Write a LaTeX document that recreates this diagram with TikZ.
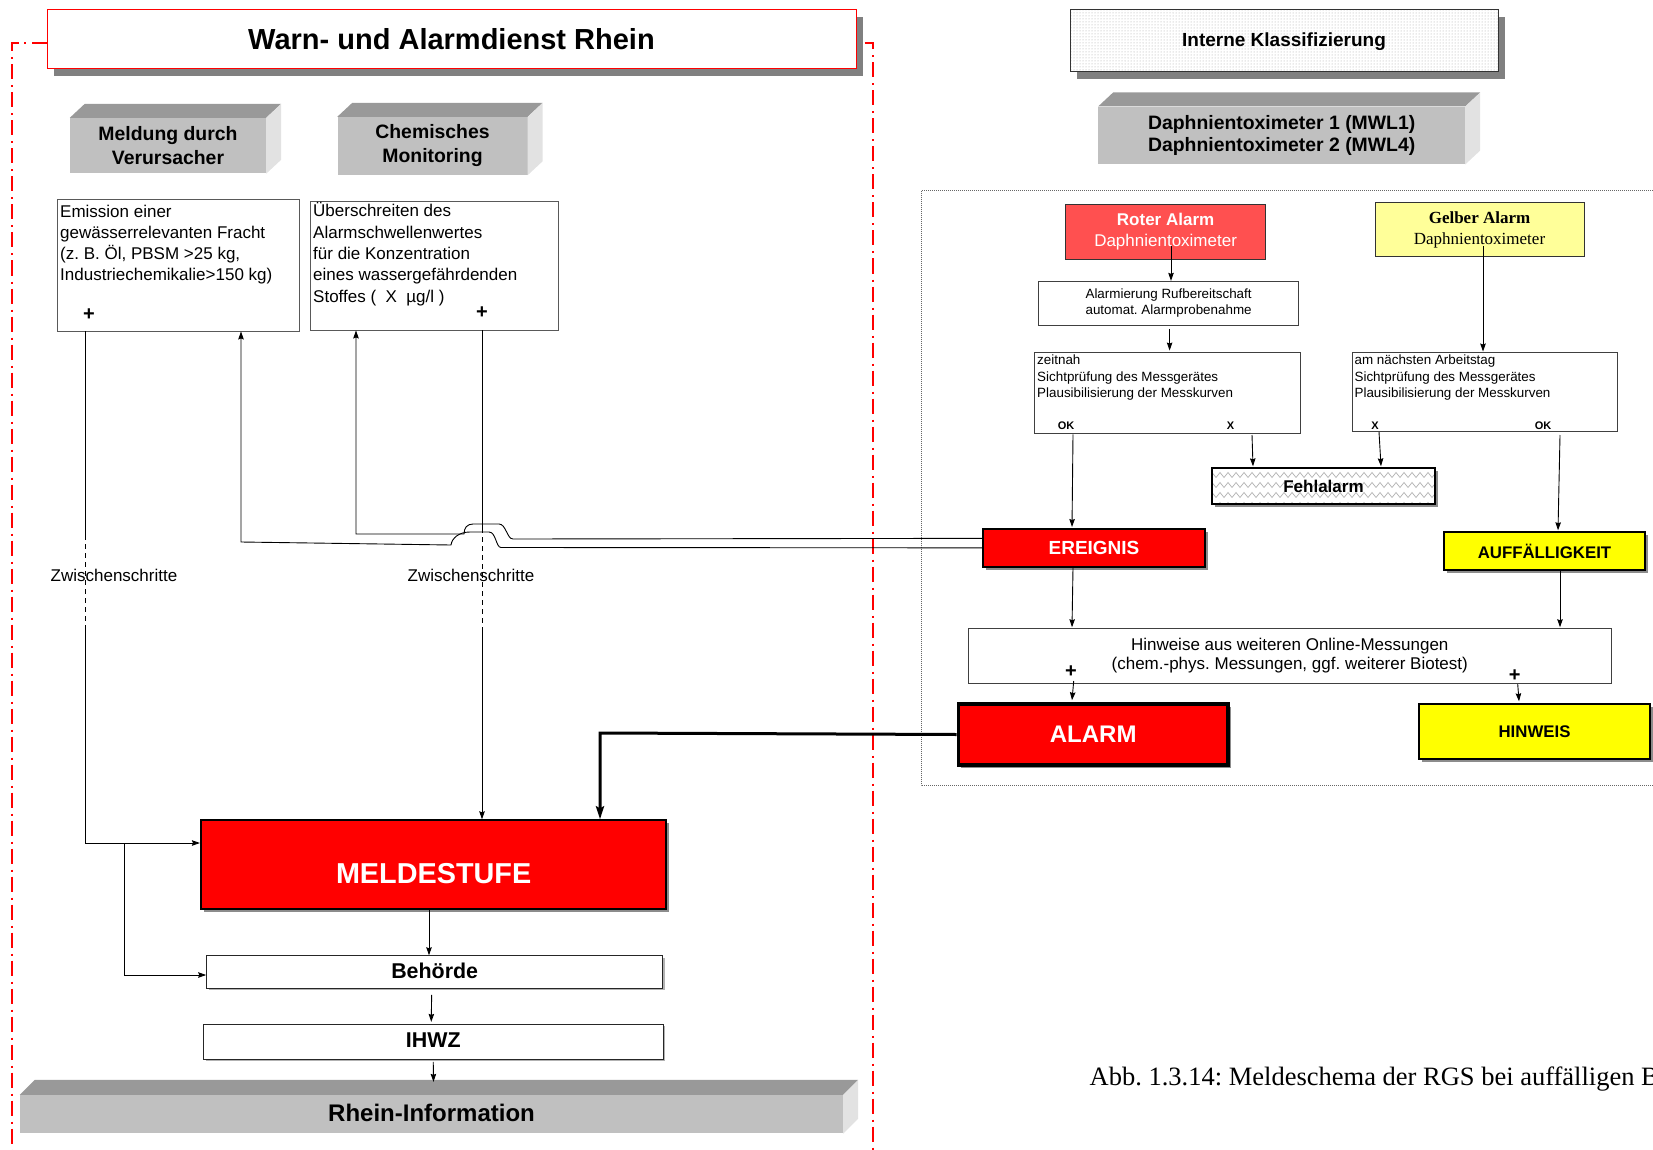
\documentclass[tikz,border=0pt]{standalone}
\usepackage{fontspec}
\setmainfont{Liberation Sans}
\newfontfamily\timesf{Liberation Serif}
\usetikzlibrary{arrows.meta,calc,shadows,patterns}
\frenchspacing
\definecolor{redA}{HTML}{FF0000}
\definecolor{redL}{HTML}{FF5050}
\definecolor{yelA}{HTML}{FFFF00}
\definecolor{yelL}{HTML}{FFFF99}
\definecolor{gFront}{HTML}{C0C0C0}
\definecolor{gTop}{HTML}{999999}
\definecolor{gSide}{HTML}{E2E2E2}
\definecolor{gShadow}{HTML}{808080}
\pgfdeclarepatternformonly{zigzag}{\pgfpoint{-1pt}{-1pt}}{\pgfpoint{17pt}{11pt}}{\pgfpoint{16pt}{10pt}}{%
  \pgfsetlinewidth{0.7pt}%
  \pgfpathmoveto{\pgfpoint{0pt}{2.5pt}}%
  \pgfpathlineto{\pgfpoint{4pt}{7.5pt}}%
  \pgfpathlineto{\pgfpoint{8pt}{2.5pt}}%
  \pgfpathlineto{\pgfpoint{12pt}{7.5pt}}%
  \pgfpathlineto{\pgfpoint{16pt}{2.5pt}}%
  \pgfusepath{stroke}}
\newcommand{\myfs}[2]{\fontsize{#1}{#2}\selectfont}
\newcommand{\mythreed}[3]{%
  \fill[gTop] (#1.north west) -- ++(#2,-#3) -- ($(#1.north east)+(#2,-#3)$) -- (#1.north east) -- cycle;
  \fill[gSide] (#1.north east) -- ++(#2,-#3) -- ($(#1.south east)+(#2,-#3)$) -- (#1.south east) -- cycle;}
\begin{document}
\begin{tikzpicture}[x=1pt,y=-1pt,
  conn/.style={draw=black,line width=0.9pt},
  arr/.style={-{Stealth[length=8pt,width=5.5pt,inset=1pt]}},
  bigarr/.style={-{Stealth[length=13pt,width=8pt,inset=2pt]}},
  dashseg/.style={conn,dash pattern=on 5pt off 4pt},
  reddash/.style={draw=redA,line width=2pt,dash pattern=on 15pt off 6pt on 2pt off 5pt},
  titlebox/.style={draw=redA,line width=1pt,fill=white,inner sep=0pt,font=\bfseries\myfs{29}{34},
    drop shadow={shadow xshift=7pt,shadow yshift=-8pt,fill=gShadow,opacity=1}},
  frontbox/.style={fill=gFront,inner sep=0pt,align=center,font=\bfseries\myfs{19.4}{24}},
  whitebox/.style={draw=black!75,line width=0.9pt,fill=white,inner sep=0pt},
  plaintext/.style={inner sep=0pt,align=left,font=\myfs{17}{21.3}},
  smalltext/.style={inner sep=0pt,align=left,font=\myfs{13.4}{16.6}},
  plussign/.style={inner sep=0pt,font=\bfseries\myfs{20}{20}},
  okx/.style={inner sep=0pt,font=\bfseries\myfs{11}{11}},
  solidbox/.style={draw=black,line width=2pt,inner sep=0pt,
    drop shadow={shadow xshift=3pt,shadow yshift=-3pt,fill=black!45,opacity=1}},
  lowbox/.style={draw=black!85,line width=0.9pt,fill=white,inner sep=0pt,font=\bfseries\myfs{21.4}{24},
    drop shadow={shadow xshift=2pt,shadow yshift=-2pt,fill=black!30,opacity=1}}
]
\useasboundingbox (0,0) rectangle (1653,1150);

% ---------------- left part ----------------
\node[titlebox,minimum width=809pt,minimum height=59pt] (title) at (451.5,39) {Warn- und Alarmdienst Rhein};
\coordinate (rdTL) at (12,43);
\coordinate (rdBL) at (12,1150);
\coordinate (rdTR) at (873,43);
\coordinate (rdBR) at (873,1150);
\draw[reddash] ($(title.west)+(0,4)$) -- (rdTL) -- (rdBL);
\draw[reddash] ($(title.east)+(8,4)$) -- (rdTR) -- (rdBR);

\node[frontbox,minimum width=196pt,minimum height=55.5pt] (meld) at (168,145.75) {Meldung durch\\Verursacher};
\mythreed{meld}{15}{14}
\node[frontbox,minimum width=190pt,minimum height=58pt] (chem) at (432.5,146) {Chemisches\\Monitoring};
\mythreed{chem}{15}{14}

\node[whitebox,draw=black!65,minimum width=242pt,minimum height=131.5pt] (emis) at (178,265.25) {};
\node[plaintext,anchor=north west] (emisT) at (60,204.5) {Emission einer\\gewässerrelevanten Fracht\\(z. B. Öl, PBSM >25 kg,\\Industriechemikalie>150 kg)};
\node[plussign] (emisP) at (89,315) {+};

\node[whitebox,draw=black!65,minimum width=248pt,minimum height=129pt] (ueber) at (434,265.5) {};
\node[plaintext,anchor=north west] (ueberT) at (313,202.5) {Überschreiten des\\Alarmschwellenwertes\\für die Konzentration\\eines wassergefährdenden\\Stoffes (\ \ X\ \ µg/l )};
\node[plussign] (ueberP) at (482,313) {+};

\node[plaintext] (zw1) at (114,575) {Zwischenschritte};
\node[plaintext] (zw2) at (471,575) {Zwischenschritte};

\node[solidbox,fill=redA,minimum width=465.3pt,minimum height=88.4pt] (melde) at (433.6,864.5) {};
\node[inner sep=0pt,text=white,font=\bfseries\myfs{28.8}{32}] (meldeT) at (433.6,874) {MELDESTUFE};
\node[lowbox,minimum width=456pt,minimum height=32.6pt] (behoerde) at (434.65,972) {\raisebox{3.5pt}{Behörde}};
\node[lowbox,minimum width=459.5pt,minimum height=35pt] (ihwz) at (433.25,1041.8) {\raisebox{3.5pt}{IHWZ}};
\node[frontbox,minimum width=823pt,minimum height=38.3pt,font=\bfseries\myfs{24}{28}] (rhein) at (431.5,1114.2) {\raisebox{3pt}{Rhein-Information}};
\mythreed{rhein}{15}{15}

% left connectors
\coordinate (lA) at (85,535);
\coordinate (lB) at (85,628);
\coordinate (lC) at (85,843);
\draw[conn] (emis.south -| lA) -- (lA);
\draw[dashseg] (lA) -- (lB);
\draw[conn,arr] (lB) -- (lC) -- (melde.west |- lC);
\coordinate (brT) at (124,843);
\coordinate (brB) at (124,975);
\draw[conn,arr] (brT) -- (brB) -- (behoerde.west |- brB);

\coordinate (rA) at (482,528);
\coordinate (rB) at (482,632);
\draw[conn] (ueber.south -| rA) -- (rA);
\draw[dashseg] (rA) -- (rB);
\draw[conn,arr] (rB) -- (melde.north -| rB);

\coordinate (mbX) at (429,0);
\draw[conn,arr] (melde.south -| mbX) -- (behoerde.north -| mbX);
\draw[conn,arr] ($(behoerde.south)+(-3,6)$) -- ($(ihwz.north)+(-2,-2)$);
\draw[conn,arr] ($(ihwz.south)+(0,2)$) -- ($(rhein.north)+(2,-13)$);

% ---------------- right part ----------------
\fill[gShadow] (1077,17) rectangle (1505,79.5);
\node[draw=black!80,line width=1pt,inner sep=0pt,minimum width=428pt,minimum height=62.5pt,
  preaction={fill=white},pattern=dots,pattern color=black!35] (intern) at (1284,40.75) {};
\node[inner sep=0pt,font=\bfseries\myfs{19}{23}] (internT) at (1284,42) {Interne Klassifizierung};
\node[frontbox,minimum width=366.7pt,minimum height=57.6pt,font=\bfseries\myfs{19.4}{23}] (daph) at (1281.65,135.5) {\raisebox{4pt}{\shortstack{Daphnientoximeter 1 (MWL1)\\Daphnientoximeter 2 (MWL4)}}};
\mythreed{daph}{15}{14}

\draw[draw=black!60,line width=0.8pt,dash pattern=on 1pt off 1pt] (921.4,190.7) rectangle (1700,785.7);

\node[draw=black!80,line width=1pt,fill=redL,inner sep=0pt,minimum width=199.8pt,minimum height=55pt,
  text=white,align=center,font=\myfs{17}{21}] (roter) at (1165.6,231.8) {{\bfseries Roter Alarm}\\Daphnientoximeter};
\node[draw=black!80,line width=1pt,fill=yelL,inner sep=0pt,minimum width=209pt,minimum height=54pt,
  align=center,font=\timesf\myfs{17}{21}] (gelber) at (1479.5,229.7) {{\bfseries Gelber Alarm}\\Daphnientoximeter};

\node[whitebox,minimum width=259.6pt,minimum height=43.7pt,align=center,font=\myfs{13.4}{16.4}] (alarmier) at (1168.6,303.15) {Alarmierung Rufbereitschaft\\automat. Alarmprobenahme};

\node[whitebox,minimum width=265.6pt,minimum height=81.3pt] (zeitnah) at (1167.6,392.65) {};
\node[smalltext,anchor=north west] (zeitnahT) at (1037,354.5) {zeitnah\\Sichtprüfung des Messgerätes\\Plausibilisierung der Messkurven};
\node[okx] (zOKl) at (1066,425.7) {OK};
\node[okx] (zXl) at (1230.5,425.7) {X};

\node[whitebox,minimum width=265.1pt,minimum height=79.7pt] (amn) at (1484.95,391.85) {};
\node[smalltext,anchor=north west] (amnT) at (1354.4,354.5) {am nächsten Arbeitstag\\Sichtprüfung des Messgerätes\\Plausibilisierung der Messkurven};
\node[okx] (aXl) at (1375,425.7) {X};
\node[okx] (aOKl) at (1543,425.7) {OK};

\node[solidbox,preaction={fill=white},pattern=zigzag,pattern color=black!30,minimum width=223.7pt,minimum height=35.7pt] (fehl) at (1323.45,486.15) {};
\node[inner sep=0pt,font=\bfseries\myfs{17}{20}] (fehlT) at (1323.45,486.15) {Fehlalarm};

\node[solidbox,fill=redA,minimum width=221.2pt,minimum height=37.7pt,text=white,font=\bfseries\myfs{19}{22}] (ereig) at (1094,547.85) {EREIGNIS};
\node[solidbox,fill=yelA,minimum width=201pt,minimum height=37.7pt,font=\bfseries\myfs{16.8}{20}] (auff) at (1544.5,551.15) {AUFFÄLLIGKEIT};

\node[whitebox,minimum width=643.5pt,minimum height=54.6pt,align=center,font=\myfs{17}{21}] (hinw) at (1289.75,656) {\raisebox{1pt}{\shortstack{Hinweise aus weiteren Online-Messungen\\(chem.-phys. Messungen, ggf. weiterer Biotest)}}};
\node[plussign] (hpLs) at (1071,672) {+};
\node[plussign] (hpRs) at (1514.6,676) {+};

\node[solidbox,line width=3.5pt,fill=redA,minimum width=269.6pt,minimum height=61pt,text=white,font=\bfseries\myfs{24}{28}] (alarm) at (1093.2,734.5) {ALARM};
\node[solidbox,fill=yelA,minimum width=231pt,minimum height=54.7pt,font=\bfseries\myfs{16.8}{20}] (hinweis) at (1534.5,731.65) {HINWEIS};

\node[anchor=base west,inner sep=0pt,font=\timesf\myfs{26.5}{30}] (cap) at (1089.5,1085) {Abb. 1.3.14: Meldeschema der RGS bei auffälligen B};

% right connectors
\coordinate (rA1) at (1171,246);
\draw[conn,arr] (rA1) -- (alarmier.north -| rA1);
\draw[conn,arr] ($(alarmier.south)+(1,3.5)$) -- ($(zeitnah.north)+(2,-1)$);
\coordinate (gA) at (1483,246);
\draw[conn,arr] (gA) -- (amn.north -| gA);
\coordinate (zOK) at (1073,434.3);
\draw[conn,arr] (zOK) -- ($(ereig.north -| zOK)+(-1,-1)$);
\coordinate (zX) at (1252,435);
\draw[conn,arr] (zX) -- ($(fehl.north -| zX)+(1,-1)$);
\coordinate (aX) at (1379,432);
\draw[conn,arr] (aX) -- ($(fehl.north -| aX)+(2,-1)$);
\coordinate (aOK) at (1560,435);
\draw[conn,arr] (aOK) -- ($(auff.north -| aOK)+(-2,-1)$);
\draw[conn,arr] (ereig.south -| zOK) -- ($(hinw.north -| zOK)+(-1,-1)$);
\draw[conn,arr] (auff.south -| aOK) -- ($(hinw.north -| aOK)+(0,-1)$);
\coordinate (hpL) at (1073.7,681);
\draw[conn,arr] (hpL) -- ($(alarm.north -| hpL)+(-1.7,-2)$);
\coordinate (hpR) at (1517.7,684);
\draw[conn,arr] (hpR) -- ($(hinweis.north -| hpR)+(1.3,-2)$);

% links from EREIGNIS back to the left column (with hops)
\coordinate (upX) at (356,534);
\draw[conn,arr] ($(ereig.west)+(0,-9.5)$) -- (513,539)
   .. controls (507,539) and (506,524) .. (499,524) -- (473,524)
   .. controls (467,524) and (464,528) .. (464,534) -- (upX) -- (ueber.south -| upX);
\coordinate (loX) at (241,542);
\draw[conn,arr] (ereig.west) -- (501,547.5)
   .. controls (496,547.5) and (496,532) .. (489,532) -- (470,532)
   .. controls (459,532) and (452,538) .. (451,545) -- (loX) -- (emis.south -| loX);

% thick ALARM link
\coordinate (alC) at (600,733);
\draw[line width=3pt,bigarr] (alarm.west) -- (alC) -- (melde.north -| alC);
\end{tikzpicture}
\end{document}
